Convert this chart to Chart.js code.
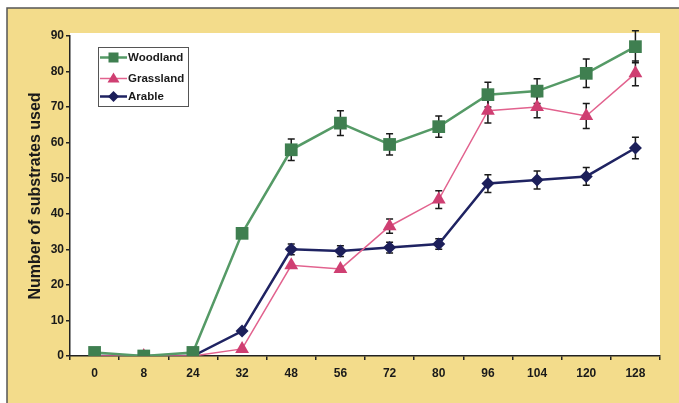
<!DOCTYPE html>
<html>
<head>
<meta charset="utf-8">
<script src="https://cdn.jsdelivr.net/npm/chart.js@4"></script>
<style>
  html, body { margin: 0; padding: 0; background: #fff; }
  #wrap { width: 679px; height: 403px; }
</style>
</head>
<body>
<div id="wrap"><canvas id="graph" width="679" height="403"></canvas></div>
<script>
const hours = ['0', '8', '24', '32', '48', '56', '72', '80', '96', '104', '120', '128'];
const woodland = [1, 0, 1, 34.5, 58, 65.5, 59.5, 64.5, 73.5, 74.5, 79.5, 87];
const woodlandErr = [0, 0, 0, 0, 3, 3.5, 3, 3, 3.5, 3.5, 4, 4.5];
const grassland = [0, 0, 0, 2, 25.5, 24.5, 36.5, 44, 69, 70, 67.5, 79.5];
const grasslandErr = [0, 0, 0, 0, 0, 0, 2, 2.5, 3.5, 3, 3.5, 3.5];
const arable = [0, 0, 0, 7, 30, 29.5, 30.5, 31.5, 48.5, 49.5, 50.5, 58.5];
const arableErr = [0, 0, 0, 0, 1.5, 1.5, 1.5, 1.5, 2.5, 2.5, 2.5, 3];

const font = 'Liberation Sans, Arial, sans-serif';

// cream panel + white plot area
const background = {
  id: 'background',
  beforeDraw(chart) {
    const c = chart.ctx, a = chart.chartArea;
    c.save();
    c.fillStyle = '#f3dc8b';
    c.fillRect(7, 8, chart.width - 7, chart.height - 8);
    c.strokeStyle = '#555';
    c.lineWidth = 1.5;
    c.beginPath();
    c.moveTo(7, chart.height);
    c.lineTo(7, 8);
    c.lineTo(chart.width, 8);
    c.stroke();
    c.fillStyle = '#fff';
    c.fillRect(a.left, a.top - 3, a.right - a.left, a.bottom - a.top + 3);
    c.restore();
  }
};

// error bars from the err arrays
const errorBars = {
  id: 'errorBars',
  beforeDatasetsDraw(chart) {
    const c = chart.ctx, y = chart.scales.y;
    c.save();
    c.strokeStyle = '#1a1a1a';
    c.lineWidth = 1.5;
    chart.data.datasets.forEach((ds, i) => {
      const meta = chart.getDatasetMeta(i);
      meta.data.forEach((pt, j) => {
        const e = ds.err[j];
        if (!e) return;
        const top = y.getPixelForValue(ds.data[j] + e);
        const bot = y.getPixelForValue(ds.data[j] - e);
        c.beginPath();
        c.moveTo(pt.x, top); c.lineTo(pt.x, bot);
        c.moveTo(pt.x - 3.5, top); c.lineTo(pt.x + 3.5, top);
        c.moveTo(pt.x - 3.5, bot); c.lineTo(pt.x + 3.5, bot);
        c.stroke();
      });
    });
    c.restore();
  }
};

// boxed legend with line + marker samples
const boxLegend = {
  id: 'boxLegend',
  afterDraw(chart) {
    const c = chart.ctx;
    c.save();
    c.fillStyle = '#fff';
    c.fillRect(98, 47, 90, 59);
    c.strokeStyle = '#555';
    c.lineWidth = 1;
    c.strokeRect(98.5, 47.5, 90, 59);
    const rows = [57.5, 78.5, 96.5];
    chart.data.datasets.forEach((ds, i) => {
      const yy = rows[i];
      c.strokeStyle = ds.borderColor;
      c.lineWidth = ds.borderWidth;
      c.beginPath(); c.moveTo(100, yy); c.lineTo(127, yy); c.stroke();
      c.fillStyle = ds.pointBackgroundColor;
      c.beginPath();
      if (ds.pointStyle === 'rect') {
        c.rect(113.5 - 5, yy - 5, 10, 10);
      } else if (ds.pointStyle === 'triangle') {
        c.moveTo(113.5, yy - 6); c.lineTo(119.5, yy + 4); c.lineTo(107.5, yy + 4); c.closePath();
      } else {
        c.moveTo(113.5, yy - 5.5); c.lineTo(119, yy); c.lineTo(113.5, yy + 5.5); c.lineTo(108, yy); c.closePath();
      }
      c.fill();
      c.fillStyle = '#1a1a1a';
      c.font = 'bold 11.5px ' + font;
      c.textBaseline = 'middle';
      c.fillText(ds.label, 128, yy + 0.5);
    });
    c.restore();
  }
};

const ctx = document.getElementById('graph').getContext('2d');
const chart = new Chart(ctx, {
  type: 'line',
  data: {
    labels: hours,
    datasets: [{
      label: 'Woodland',
      data: woodland,
      err: woodlandErr,
      borderColor: '#559a66',
      borderWidth: 2.5,
      pointStyle: 'rect',
      pointRadius: 9,
      pointBackgroundColor: '#3f7f50',
      pointBorderColor: '#3f7f50',
      pointBorderWidth: 0
    }, {
      label: 'Grassland',
      data: grassland,
      err: grasslandErr,
      borderColor: '#e2628e',
      borderWidth: 1.5,
      pointStyle: 'triangle',
      pointRadius: 8,
      pointBackgroundColor: '#cf3f72',
      pointBorderColor: '#cf3f72',
      pointBorderWidth: 0
    }, {
      label: 'Arable',
      data: arable,
      err: arableErr,
      borderColor: '#1f2362',
      borderWidth: 2.5,
      pointStyle: 'rectRot',
      pointRadius: 6.5,
      pointBackgroundColor: '#1c1f5a',
      pointBorderColor: '#1c1f5a',
      pointBorderWidth: 0
    }]
  },
  options: {
    responsive: false,
    animation: false,
    layout: { padding: { left: 24, right: 19, top: 36, bottom: 17 } },
    plugins: {
      legend: { display: false },
      tooltip: { enabled: false }
    },
    scales: {
      x: {
        offset: true,
        afterFit: (s) => { s.height = 30; },
        grid: { offset: true, drawOnChartArea: false, drawTicks: true, tickLength: 4, color: '#222', lineWidth: 1.5 },
        border: { display: true, color: '#222', width: 1.5 },
        ticks: { color: '#1a1a1a', padding: 6, font: { family: font, size: 12, weight: 'bold' } }
      },
      y: {
        min: 0,
        max: 90,
        afterFit: (s) => { s.width = 46; },
        grid: { drawOnChartArea: false, drawTicks: true, tickLength: 4, color: '#222', lineWidth: 1.5 },
        border: { display: true, color: '#222', width: 1.5 },
        ticks: { stepSize: 10, color: '#1a1a1a', padding: 2, font: { family: font, size: 12, weight: 'bold' } },
        title: { display: true, text: 'Number of substrates used', color: '#1a1a1a', padding: { top: 2, bottom: 2 }, font: { family: font, size: 16, weight: 'bold' } }
      }
    }
  },
  plugins: [background, errorBars, boxLegend]
});
</script>
</body>
</html>
